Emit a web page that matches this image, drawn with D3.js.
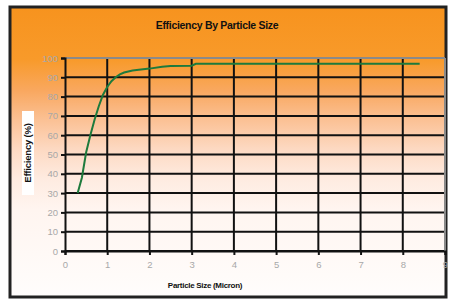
<!DOCTYPE html>
<html><head><meta charset="utf-8">
<script src="https://cdn.jsdelivr.net/npm/d3@7"></script>
<style>html,body{margin:0;padding:0;background:#fff;}svg{display:block;}</style>
</head><body>
<script>
const xVals = [0.3,0.4,0.5,0.6,0.7,0.8,0.9,1.0,1.1,1.2,1.3,1.4,1.6,1.8,2.0,2.3,2.5,3.0,3.1,4,5,6,7,8,8.4];
const yVals = [30,38,51,60,68,75,81,85,88,90,91.5,92.5,93.5,94,94.5,95.5,95.8,96,97,97,97,97,97,97,97];
const xTicks = [0,1,2,3,4,5,6,7,8,9];
const yTicks = [0,10,20,30,40,50,60,70,80,90,100];
const title = "Efficiency By Particle Size";
const xTitle = "Particle Size (Micron)";
const yTitle = "Efficiency (%)";

const W=449,H=301;
const svg=d3.select("body").append("svg").attr("width",W).attr("height",H);
const defs=svg.append("defs");
const g1=defs.append("linearGradient").attr("id","bg").attr("x1",0).attr("y1",0).attr("x2",0).attr("y2",1);
[["0%","#f7931e"],["18%","#f89a2a"],["29%","#f9a860"],["39%","#fbc195"],["49%","#fdd9c2"],["59%","#feebe0"],["70%","#fff5f0"],["100%","#fffdfc"]]
  .forEach(s=>g1.append("stop").attr("offset",s[0]).attr("stop-color",s[1]));

const fx=10, fy=7, fw=436, fh=290;
svg.append("rect").attr("x",fx).attr("y",fy).attr("width",fw).attr("height",fh)
  .attr("fill","url(#bg)").attr("stroke","#222").attr("stroke-width",3);

const x=d3.scaleLinear().domain([0,9]).range([65,445]);
const y=d3.scaleLinear().domain([0,100]).range([251,58]);

// grid
const grid=svg.append("g");
grid.selectAll(".h").data(yTicks.filter(d=>d<100)).join("line")
  .attr("x1",x(0)).attr("x2",x(9)).attr("y1",d=>y(d)).attr("y2",d=>y(d))
  .attr("stroke","#111").attr("stroke-width",2);
grid.selectAll(".v").data(xTicks.filter(d=>d>0 && d<9)).join("line")
  .attr("x1",d=>x(d)).attr("x2",d=>x(d)).attr("y1",y(100)).attr("y2",y(0))
  .attr("stroke","#111").attr("stroke-width",2);
grid.append("line").attr("x1",x(0)).attr("x2",x(9)).attr("y1",y(100)).attr("y2",y(100))
  .attr("stroke","#8a8a8a").attr("stroke-width",2);
grid.append("line").attr("x1",x(9)).attr("x2",x(9)).attr("y1",y(100)).attr("y2",y(0))
  .attr("stroke","#8a8a8a").attr("stroke-width",2);

// axes
const yAxis=d3.axisLeft(y).tickValues(yTicks).tickSize(4).tickPadding(3);
const xAxis=d3.axisBottom(x).tickValues(xTicks).tickSize(4).tickPadding(6);
const ya=svg.append("g").attr("transform",`translate(${x(0)},0)`).call(yAxis);
const xa=svg.append("g").attr("transform",`translate(0,${y(0)})`).call(xAxis);
[ya,xa].forEach(a=>{
  a.select(".domain").attr("stroke","#111").attr("stroke-width",2);
  a.selectAll(".tick line").attr("stroke","#111").attr("stroke-width",2);
  a.selectAll("text").attr("fill","#a8a8a8").attr("font-family","Liberation Sans, Arial, sans-serif").attr("font-size",9.5);
});

// line
const line=d3.line().x((d,i)=>x(xVals[i])).y((d,i)=>y(yVals[i]));
svg.append("path").datum(yVals).attr("d",line).attr("fill","none")
  .attr("stroke","#1e7a3c").attr("stroke-width",2);

// titles
svg.append("text").attr("x",217).attr("y",29).attr("text-anchor","middle")
  .attr("font-family","Liberation Sans, Arial, sans-serif").attr("font-weight","bold")
  .attr("font-size",10.5).attr("fill","#111").attr("letter-spacing","-0.3").text(title);
svg.append("text").attr("x",205).attr("y",288).attr("text-anchor","middle")
  .attr("font-family","Liberation Sans, Arial, sans-serif").attr("font-weight","bold")
  .attr("font-size",8).attr("fill","#111").attr("letter-spacing","-0.3").text(xTitle);
const yt=svg.append("g").attr("transform","translate(30,153) rotate(-90)");
yt.append("rect").attr("x",-42).attr("y",-8).attr("width",84).attr("height",12).attr("fill","#fff");
yt.append("text").attr("x",0).attr("y",1).attr("text-anchor","middle")
  .attr("font-family","Liberation Sans, Arial, sans-serif").attr("font-weight","bold")
  .attr("font-size",9.5).attr("fill","#111").attr("letter-spacing","-0.2").text(yTitle);
</script>
</body></html>
